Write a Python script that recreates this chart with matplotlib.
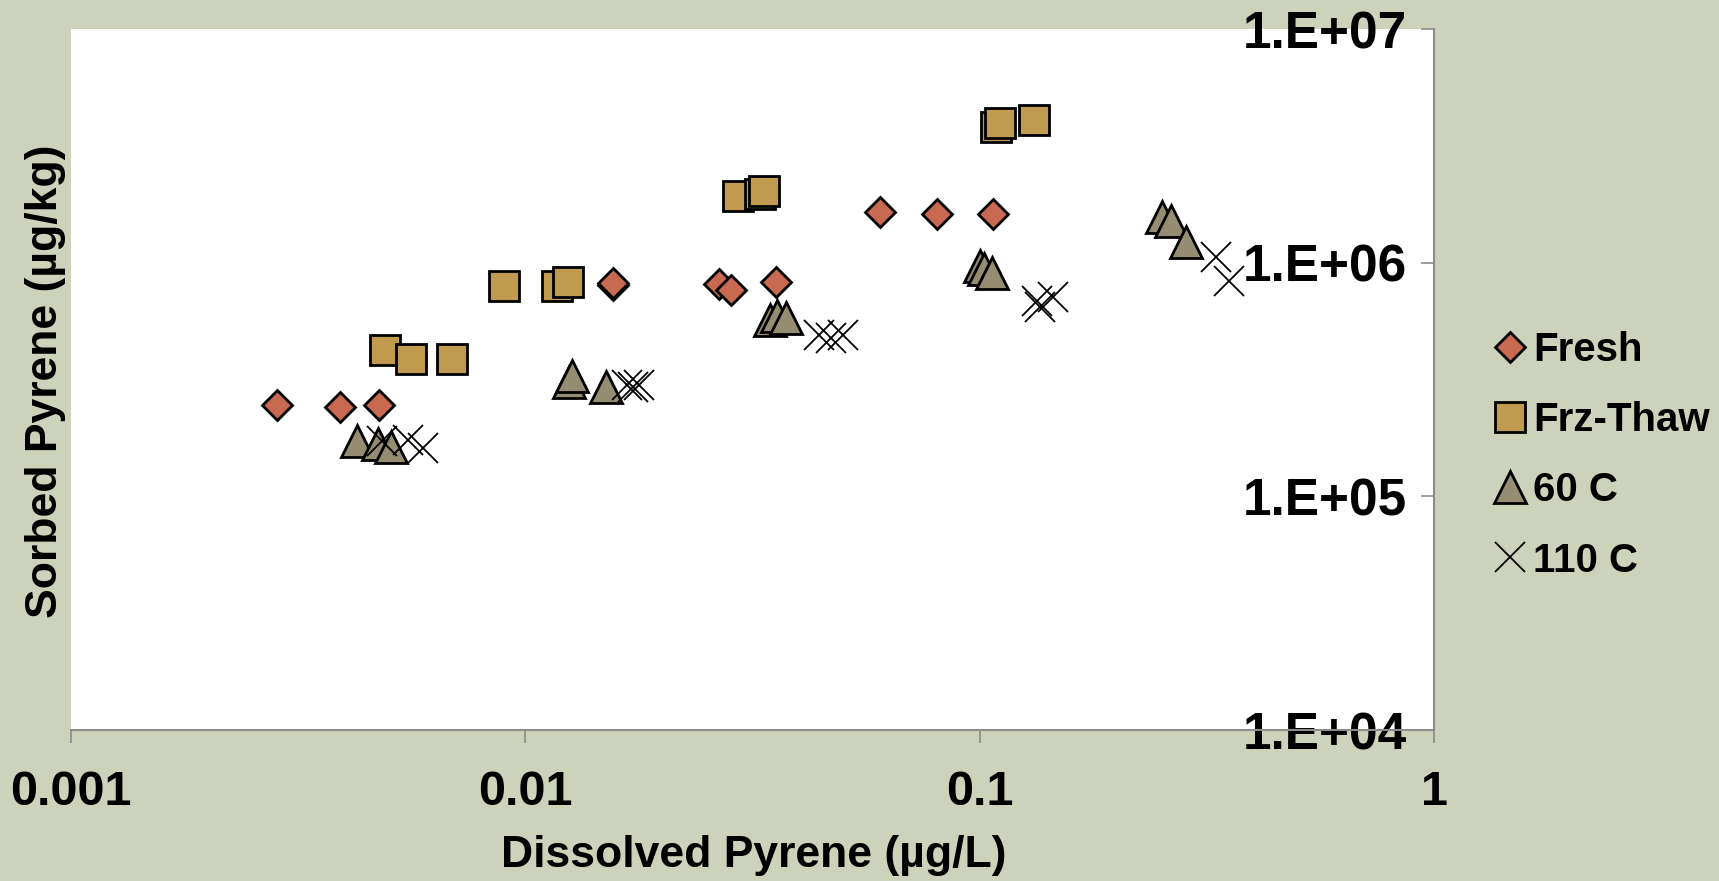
import matplotlib
matplotlib.use("Agg")
import matplotlib.pyplot as plt
from matplotlib.ticker import FixedLocator, FixedFormatter, NullLocator

plt.rcParams['font.family'] = ['Liberation Sans', 'DejaVu Sans']
plt.rcParams['font.weight'] = 'bold'

# ---- data ----
fresh_x = [0.00284, 0.0039, 0.00477, 0.01557, 0.0156, 0.0267, 0.0284, 0.0356, 0.0604, 0.0807, 0.107]
fresh_y = [2.45e5, 2.40e5, 2.45e5, 8.05e5, 8.15e5, 8.1e5, 7.64e5, 8.23e5, 1.64e6, 1.61e6, 1.61e6]

frz_x = [0.0049, 0.0056, 0.00688, 0.00898, 0.01173, 0.0124, 0.02935, 0.0328, 0.0335, 0.1084, 0.1108, 0.1316]
frz_y = [4.21e5, 3.86e5, 3.86e5, 7.96e5, 7.96e5, 8.23e5, 1.93e6, 1.97e6, 2.02e6, 3.82e6, 3.95e6, 4.07e6]

c60_x = [0.00427, 0.00474, 0.00507, 0.01248, 0.01267, 0.01505, 0.03456, 0.0358, 0.0375,
         0.1002, 0.1022, 0.1064, 0.2519, 0.2637, 0.2844]
c60_y = [1.72e5, 1.68e5, 1.63e5, 3.09e5, 3.27e5, 2.94e5, 5.68e5, 5.91e5, 5.8e5,
         9.68e5, 9.4e5, 9.03e5, 1.568e6, 1.508e6, 1.226e6]

c110_x = [0.00484, 0.00552, 0.00595, 0.01674, 0.01726, 0.0178, 0.04429, 0.0471, 0.05003,
          0.1337, 0.1358, 0.145, 0.3313, 0.3538]
c110_y = [1.725e5, 1.74e5, 1.61e5, 2.99e5, 2.94e5, 2.99e5, 4.9e5, 4.76e5, 4.9e5,
          6.85e5, 6.46e5, 7.13e5, 1.057e6, 8.35e5]

series_names = ['Fresh', 'Frz-Thaw', '60 C', '110 C']
x_ticks = [0.001, 0.01, 0.1, 1]
x_tick_labels = ['0.001', '0.01', '0.1', '1']
y_ticks = [1e4, 1e5, 1e6, 1e7]
y_tick_labels = ['1.E+04', '1.E+05', '1.E+06', '1.E+07']
x_title = 'Dissolved Pyrene (\u00b5g/L)'
y_title = 'Sorbed Pyrene (\u00b5g/kg)'

# ---- styles ----
bg = '#CDD3BB'
axis_gray = '#8C8C8C'
fs_title = 32
fs_xtick = 35
fs_ytick = 37
fs_leg = 29

fig = plt.figure(figsize=(17.19, 8.81), dpi=100, facecolor=bg)
ax = fig.add_axes([71/1719, 151/881, 1363/1719, 701/881])
ax.set_facecolor('white')
ax.set_xscale('log')
ax.set_yscale('log')
ax.set_xlim(0.001, 1)
ax.set_ylim(1e4, 1e7)

h1, = ax.plot(fresh_x, fresh_y, linestyle='none', marker='D', markersize=15,
              markerfacecolor='#C86A52', markeredgecolor='black', markeredgewidth=2.0, label=series_names[0])
h2, = ax.plot(frz_x, frz_y, linestyle='none', marker='s', markersize=21,
              markerfacecolor='#C09A4E', markeredgecolor='black', markeredgewidth=2.0, label=series_names[1])
h3, = ax.plot(c60_x, c60_y, linestyle='none', marker='^', markersize=23,
              markerfacecolor='#948D72', markeredgecolor='black', markeredgewidth=2.0, label=series_names[2])
h4, = ax.plot(c110_x, c110_y, linestyle='none', marker='x', markersize=22,
              markeredgecolor='black', markeredgewidth=1.3, label=series_names[3])

for s in ['top', 'right']:
    ax.spines[s].set_visible(False)
ax.spines['left'].set_position(('axes', 1.0))
ax.spines['left'].set_color(axis_gray)
ax.spines['left'].set_linewidth(1.5)
ax.spines['bottom'].set_color(axis_gray)
ax.spines['bottom'].set_linewidth(1.5)

ax.xaxis.set_major_locator(FixedLocator(x_ticks))
ax.xaxis.set_major_formatter(FixedFormatter(x_tick_labels))
ax.xaxis.set_minor_locator(NullLocator())
ax.yaxis.set_major_locator(FixedLocator(y_ticks))
ax.yaxis.set_major_formatter(FixedFormatter(y_tick_labels))
ax.yaxis.set_minor_locator(NullLocator())

ax.tick_params(axis='x', direction='out', length=9.5, width=1.2, color=axis_gray,
               labelsize=fs_xtick, pad=19)
ax.tick_params(axis='y', direction='out', length=9.5, width=1.2, color=axis_gray,
               labelsize=fs_ytick, pad=10)
for lab in ax.get_xticklabels() + ax.get_yticklabels():
    lab.set_fontweight('bold')

fig.text(754/1719, 1 - 855/881, x_title, ha='center', va='center', fontsize=fs_title, fontweight='bold')
fig.text(46/1719, 1 - 381/881, y_title, ha='center', va='center', rotation=90,
         fontsize=fs_title, fontweight='bold')

leg = ax.legend(handles=[h1, h2, h3, h4], loc='center left', bbox_to_anchor=(1.0415, 0.392),
                frameon=False, borderpad=0, borderaxespad=0, handlelength=0.97,
                handletextpad=0.09, labelspacing=0.8, numpoints=1,
                prop={'size': fs_leg, 'weight': 'bold'})

fig.savefig('out.png', dpi=100, facecolor=bg)
